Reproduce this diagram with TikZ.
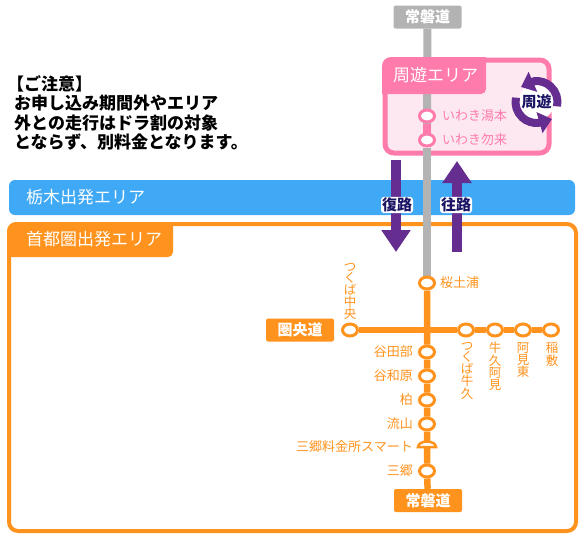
\documentclass[tikz,border=0pt]{standalone}
\usepackage{fontspec}
\setmainfont{Noto Sans CJK JP}
\definecolor{ntorange}{HTML}{FF931E}
\definecolor{ntpink}{HTML}{FF7BAC}
\definecolor{ntpale}{HTML}{FDE8F2}
\definecolor{ntblue}{HTML}{3FA9F5}
\definecolor{ntpurple}{HTML}{662D91}
\definecolor{ntnavy}{HTML}{1B1464}
\definecolor{ntgray}{HTML}{B3B3B3}
\usetikzlibrary{arrows.meta, positioning, shapes.geometric, backgrounds}

\begin{document}
\begin{tikzpicture}[x=1pt, y=-1pt,
  sta/.style={ellipse, draw=ntorange, fill=white, line width=3pt, minimum width=15pt,
              minimum height=12pt, inner sep=0pt},
  pinksta/.style={sta, draw=ntpink},
  road/.style={rounded corners=2pt, minimum width=68pt, minimum height=23pt, inner sep=0pt,
               fill=ntorange, text=white, font=\fontsize{15}{15}\selectfont\bfseries},
  tabtext/.style={text=white, inner sep=0pt, font=\fontsize{17}{17}\selectfont},
  stname/.style={text=ntorange, inner sep=0pt, font=\fontsize{13}{13}\selectfont},
  pinkname/.style={stname, text=ntpink},
  stvert/.style={text=ntorange, inner sep=0pt, align=center, font=\fontsize{12.5}{11}\selectfont},
  dirarrow/.style={ntpurple, line width=10pt, -{Triangle[width=28pt, length=22pt]}},
  dirtext/.style={text=ntnavy, fill=white, rounded corners=3pt, inner sep=1pt,
                  font=\fontsize{15}{15}\selectfont\bfseries},
  cyc/.style={ntpurple, line width=8pt, -{Triangle[width=21pt, length=13pt]}},
]
  \useasboundingbox (0,0) rectangle (584,541);
  % areas
  \begin{scope}[on background layer]
    \fill[white] (0,0) rectangle (584,541);
    \fill[ntblue, rounded corners=6pt] (9,180) rectangle (575,215);
    \draw[ntorange, line width=4pt, rounded corners=9pt] (9,224) rectangle (576,531);
    \draw[ntpink, fill=ntpale, line width=5pt, rounded corners=9pt] (385,60) rectangle (549,153);
  \end{scope}
  \fill[ntorange] (7,257) [rounded corners=9pt] -- (7,222) [sharp corners] -- (173,222)
    [rounded corners=5pt] -- (173,257) [sharp corners] -- cycle;
  \fill[ntpink] (382,94) [rounded corners=9pt] -- (382,57) [sharp corners] -- (486,57)
    [rounded corners=5pt] -- (486,94) [sharp corners] -- cycle;
  \node[tabtext, anchor=west] (shuyu) at (393,75) {周遊エリア};
  \node[tabtext, anchor=west] (tochigi) at (26,197) {栃木出発エリア};
  \node[tabtext, anchor=west] (shuto) at (26,239) {首都圏出発エリア};
  % note
  \node[anchor=north west, inner sep=0pt, align=left,
        font=\fontsize{17}{19.6}\selectfont\bfseries] (note) at (14,75)
    {\hspace*{-7pt}【ご注意】\\お申し込み期間外やエリア\\外との走行はドラ割の対象\\とならず、別料金となります。};
  % roads
  \node[road, fill=ntgray] (jobanN) at (427.5,17) {常磐道};
  \node[road] (jobanS) at (428,500.5) {常磐道};
  \node[road] (kenodo) at (300,330) {圏央道};
  % stations
  \node[pinksta] (yumoto) at (427,116) {};
  \node[pinksta] (nakoso) at (427,140) {};
  \node[sta] (sakura) at (427,283) {};
  \node[sta] (tchuo) at (350,330) {};
  \node[sta] (tushiku) at (466,330) {};
  \node[sta] (ushiku) at (495,330) {};
  \node[sta] (amihi) at (523,330) {};
  \node[sta] (inashiki) at (551,330) {};
  \node[sta] (yatabe) at (427,352) {};
  \node[sta] (yawara) at (427,376) {};
  \node[sta] (kashiwa) at (427,400) {};
  \node[sta] (nagare) at (427,424) {};
  \node[sta] (misato) at (427,471) {};
  \coordinate (cross) at (427,330);
  \coordinate (smart) at (427,447);
  \filldraw[ntorange, fill=white, line width=2.5pt] (418,447) arc (180:0:9pt and 5.5pt) -- cycle;
  % labels
  \node[pinkname, right=6pt of yumoto] (yumotoL) {いわき湯本};
  \node[pinkname, right=6pt of nakoso] (nakosoL) {いわき勿来};
  \node[stname, right=4pt of sakura] (sakuraL) {桜土浦};
  \node[stname, left=5pt of yatabe] (yatabeL) {谷田部};
  \node[stname, left=5pt of yawara] (yawaraL) {谷和原};
  \node[stname, left=5pt of kashiwa] (kashiwaL) {柏};
  \node[stname, left=5pt of nagare] (nagareL) {流山};
  \node[stname, anchor=east] (smartL) at (413,447) {三郷料金所スマート};
  \node[stname, left=5pt of misato] (misatoL) {三郷};
  \node[stvert, anchor=south] (tchuoL) at (350,320) {つ\\く\\ば\\中\\央};
  \node[stvert, anchor=north] (tushikuL) at (467,342) {つ\\く\\ば\\牛\\久};
  \node[stvert, anchor=north] (ushikuL) at (495,342) {牛\\久\\阿\\見};
  \node[stvert, anchor=north] (amihiL) at (523,342) {阿\\見\\東};
  \node[stvert, anchor=north] (inashikiL) at (552,342) {稲\\敷};
  % lines
  \begin{scope}[on background layer]
    \draw[ntgray, line width=8pt] (jobanN) -- (nakoso);
    \draw[ntgray, line width=8pt] (nakoso) -- (sakura);
    \draw[ntpink, line width=8pt] (yumoto) -- (nakoso);
    \draw[ntorange, line width=6.5pt] (sakura) -- (cross) -- (yatabe) -- (yawara) -- (kashiwa)
      -- (nagare) -- (smart) -- (misato) -- (jobanS);
    \draw[ntorange, line width=6.5pt] (tchuo) -- (cross) -- (tushiku) -- (ushiku)
      -- (amihi) -- (inashiki);
  \end{scope}
  % directions
  \coordinate (fukuA) at (396,160);
  \coordinate (fukuB) at (396,252);
  \coordinate (ouA) at (457,252);
  \coordinate (ouB) at (457,161);
  \draw[dirarrow] (fukuA) -- (fukuB);
  \draw[dirarrow] (ouA) -- (ouB);
  \node[dirtext] (fuku) at (397,205) {復路};
  \node[dirtext] (ou) at (456,205) {往路};
  % cycle mark
  \node[circle, text=ntnavy, fill=white, minimum size=36pt, inner sep=0pt,
        font=\fontsize{15}{15}\selectfont\bfseries] (shuyuM) at (536.5,102) {周遊};
  \coordinate (cycA) at (521,87);
  \coordinate (cycB) at (552,119);
  \draw[cyc] (shuyuM.center) ++(-12:21pt) arc (-12:95:21pt) -- (cycA);
  \draw[cyc] (shuyuM.center) ++(168:21pt) arc (168:275:21pt) -- (cycB);
\end{tikzpicture}
\end{document}
